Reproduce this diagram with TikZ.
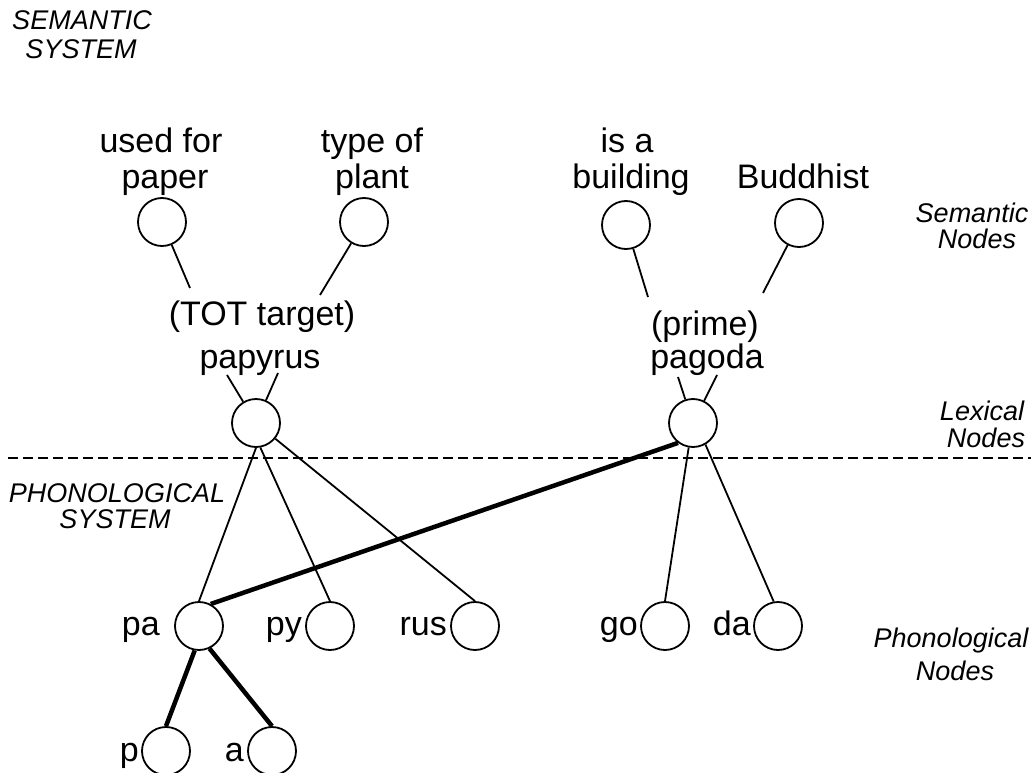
\documentclass[tikz,border=0pt]{standalone}
\usepackage{fontspec}
\setmainfont{Liberation Sans}
\begin{document}
\begin{tikzpicture}[x=1pt,y=-1pt,
  dot/.style={circle,draw,minimum size=48pt,inner sep=0pt,line width=1.8pt},
  lbl/.style={anchor=base,inner sep=0pt,font=\fontsize{34}{36}\selectfont},
  rlbl/.style={anchor=base east,inner sep=0pt,font=\fontsize{34}{36}\selectfont},
  ital/.style={anchor=base,inner sep=0pt,font=\fontsize{27}{29}\selectfont\itshape},
  thin/.style={line width=1.8pt},
  thick/.style={line width=4.5pt},
  sep/.style={line width=1.6pt,dash pattern=on 10pt off 5pt}]
\useasboundingbox (0,0) rectangle (1031,773);
% system labels
\node[ital] (ss1) at (82,30) {SEMANTIC};
\node[ital] (ss2) at (81,59) {SYSTEM};
\node[ital] (ps1) at (117,502) {PHONOLOGICAL};
\node[ital] (ps2) at (115,528) {SYSTEM};
% level labels
\node[ital] (sn1) at (972,222) {Semantic};
\node[ital] (sn2) at (977,248) {Nodes};
\node[ital] (ln1) at (982,420) {Lexical};
\node[ital] (ln2) at (986,447) {Nodes};
\node[ital] (pn1) at (951,647) {Phonological};
\node[ital] (pn2) at (955,680) {Nodes};
% semantic feature labels
\node[lbl] (u1) at (161,153) {used for};
\node[lbl] (u2) at (165,188) {paper};
\node[lbl] (t1) at (372,153) {type of};
\node[lbl] (t2) at (372,188) {plant};
\node[lbl] (b1) at (627,153) {is a};
\node[lbl] (b2) at (631,188) {building};
\node[lbl] (bu) at (803,188) {Buddhist};
% semantic nodes
\node[dot] (s1) at (162,222) {};
\node[dot] (s2) at (364,222) {};
\node[dot] (s3) at (626,225) {};
\node[dot] (s4) at (799,223) {};
% lexical labels
\node[lbl] (tot) at (262,325) {(TOT target)};
\node[lbl] (pap) at (260,368) {papyrus};
\node[lbl] (pri) at (705,335) {(prime)};
\node[lbl] (pag) at (707,368) {pagoda};
% lexical nodes
\node[dot] (lex1) at (256,423) {};
\node[dot] (lex2) at (693,423) {};
% phonological nodes
\node[dot] (pa) at (199,626) {};
\node[dot] (py) at (330,626) {};
\node[dot] (rus) at (475,626) {};
\node[dot] (go) at (665,626) {};
\node[dot] (da) at (778,626) {};
\node[dot] (p) at (166,751) {};
\node[dot] (a) at (272,751) {};
\node[rlbl] (lpa) at (160,635) {pa};
\node[rlbl] (lpy) at (302,635) {py};
\node[rlbl] (lrus) at (447,635) {rus};
\node[rlbl] (lgo) at (638,635) {go};
\node[rlbl] (lda) at (751,635) {da};
\node[rlbl] (lp) at (139,761) {p};
\node[rlbl] (la) at (244,761) {a};
% free ends
\coordinate (c1) at (190,288);
\coordinate (c2) at (320,295);
\coordinate (c3) at (648,297);
\coordinate (c4) at (763,293);
\coordinate (d1) at (227,375);
\coordinate (d2) at (278,373);
\coordinate (d3) at (678,377);
\coordinate (d4) at (717,375);
\coordinate (dl) at (8,458);
\coordinate (dr) at (1031,458);
% connectors
\draw[thin] (s1) -- (c1);
\draw[thin] (s2) -- (c2);
\draw[thin] (s3) -- (c3);
\draw[thin] (s4) -- (c4);
\draw[thin] (lex1) -- (d1);
\draw[thin] (lex1) -- (d2);
\draw[thin] (lex2) -- (d3);
\draw[thin] (lex2) -- (d4);
\draw[sep] (dl) -- (dr);
\draw[thin] (lex1.south) -- (pa.north);
\draw[thin] (lex1.-80) -- (py.north);
\draw[thin] (lex1) -- (rus.north);
\draw[thin] (lex2.-100) -- (go.north);
\draw[thin] (lex2.-60) -- (da.100);
\draw[thick] (pa.62) -- (lex2.233);
\draw[thick] (pa.-100) -- (p.north);
\draw[thick] (pa.-65) -- (a.north);
\end{tikzpicture}
\end{document}
